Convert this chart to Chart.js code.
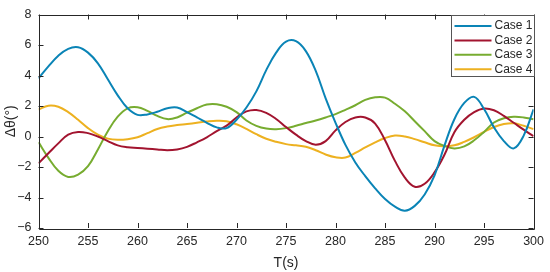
<!DOCTYPE html>
<html>
<head>
<meta charset="utf-8">
<script src="https://cdn.jsdelivr.net/npm/chart.js@4.4.1/dist/chart.umd.min.js"></script>
<style>
  html, body { margin: 0; padding: 0; background: #fff; }
  #wrap { width: 550px; height: 272px; }
</style>
</head>
<body>
<div id="wrap"><canvas id="myChart"></canvas></div>
<script>
// Time (s)
const times = [250, 251, 252, 253, 254, 255, 256, 257, 258, 259,
               260, 261, 262, 263, 264, 265, 266, 267, 268, 269,
               270, 271, 272, 273, 274, 275, 276, 277, 278, 279,
               280, 281, 282, 283, 284, 285, 286, 287, 288, 289,
               290, 291, 292, 293, 294, 295, 296, 297, 298, 299, 300];

// Δθ per case
const case1 = [3.81, 4.6, 5.3, 5.75, 5.85, 5.5, 4.8, 3.75, 2.7, 1.85,
               1.42, 1.45, 1.62, 1.85, 1.9, 1.6, 1.25, 0.9, 0.6, 0.55,
               1.1, 1.9, 2.96, 4.35, 5.5, 6.22, 6.25, 5.6, 4.3, 2.5,
               0.9, -0.55, -1.7, -2.6, -3.4, -4.1, -4.6, -4.87, -4.55, -3.8,
               -2.55, -0.6, 1.13, 2.2, 2.6, 1.8, 0.6, -0.3, -0.78, 0.06, 1.78];
const case2 = [-1.76, -1.1, -0.45, 0.12, 0.3, 0.22, 0.0, -0.3, -0.58, -0.7,
               -0.75, -0.8, -0.85, -0.9, -0.85, -0.68, -0.38, -0.05, 0.35, 0.71,
               1.25, 1.65, 1.74, 1.55, 1.15, 0.62, 0.12, -0.3, -0.54, -0.3,
               0.4, 0.95, 1.25, 1.25, 0.85, -0.25, -1.6, -2.7, -3.3, -3.1,
               -2.35, -1.2, 0.28, 1.1, 1.6, 1.84, 1.72, 1.35, 0.9, 0.45, 0.02];
const case3 = [-0.37, -1.4, -2.25, -2.65, -2.5, -1.95, -0.85, 0.35, 1.3, 1.85,
               1.92, 1.68, 1.35, 1.14, 1.25, 1.56, 1.85, 2.1, 2.12, 1.95,
               1.6, 1.05, 0.7, 0.52, 0.48, 0.55, 0.7, 0.88, 1.05, 1.25,
               1.47, 1.75, 2.05, 2.4, 2.57, 2.55, 2.15, 1.65, 1.0, 0.35,
               -0.3, -0.62, -0.78, -0.65, -0.25, 0.3, 0.92, 1.2, 1.29, 1.25, 1.13];
const case4 = [1.77, 2.02, 1.95, 1.6, 1.1, 0.55, 0.12, -0.14, -0.22, -0.18,
               -0.05, 0.22, 0.49, 0.65, 0.75, 0.82, 0.9, 0.98, 1.03, 1.0,
               0.8, 0.5, 0.15, -0.15, -0.35, -0.5, -0.58, -0.67, -0.9, -1.18,
               -1.36, -1.38, -1.08, -0.72, -0.38, -0.1, 0.06, 0.0, -0.17, -0.38,
               -0.58, -0.64, -0.58, -0.35, -0.05, 0.3, 0.62, 0.82, 0.87, 0.7, 0.49];

const caseNames = ["Case 1", "Case 2", "Case 3", "Case 4"];
const caseColors = ["#0A84B6", "#A2142F", "#77AC30", "#EDB120"];

const xTicks = [250, 300, 5];
const yTicks = [-6, 8, 2];

const textColor = "#262626";
const axisColor = "#262626";
const fontFamily = "'Liberation Sans', Arial, sans-serif";

function toPoints(values) {
    return times.map((t, i) => ({ x: t, y: values[i] }));
}

const series = [case1, case2, case3, case4];

// Box, inner ticks and legend, like MATLAB
const boxPlugin = {
    id: "boxPlugin",
    afterDraw(chart) {
        const ctx = chart.ctx;
        const a = chart.chartArea;
        const xs = chart.scales.x;
        const ys = chart.scales.y;
        ctx.save();
        ctx.strokeStyle = axisColor;
        ctx.lineWidth = 1;
        ctx.beginPath();
        ctx.rect(Math.round(a.left) + 0.5, Math.round(a.top) + 0.5,
                 Math.round(a.right - a.left), Math.round(a.bottom - a.top));
        ctx.stroke();

        const len = 5;
        ctx.beginPath();
        xs.ticks.forEach(tk => {
            const px = Math.round(xs.getPixelForValue(tk.value)) + 0.5;
            ctx.moveTo(px, a.bottom); ctx.lineTo(px, a.bottom - len);
            ctx.moveTo(px, a.top); ctx.lineTo(px, a.top + len);
        });
        ys.ticks.forEach(tk => {
            const py = Math.round(ys.getPixelForValue(tk.value)) + 0.5;
            ctx.moveTo(a.left, py); ctx.lineTo(a.left + len, py);
            ctx.moveTo(a.right, py); ctx.lineTo(a.right - len, py);
        });
        ctx.stroke();

        // legend
        const lw = 83, rowH = 14.4, lh = 61;
        const lx = Math.round(a.right - lw) + 0.5;
        const ly = Math.round(a.top) + 0.5;
        ctx.fillStyle = "#fff";
        ctx.fillRect(lx, ly, lw, lh);
        ctx.strokeStyle = "#555";
        ctx.strokeRect(lx, ly, lw, lh);
        ctx.font = "12px " + fontFamily;
        ctx.textBaseline = "middle";
        chart.data.datasets.forEach((ds, i) => {
            const cy = ly + 10.5 + i * rowH;
            ctx.strokeStyle = ds.borderColor;
            ctx.lineWidth = 2;
            ctx.beginPath();
            ctx.moveTo(lx + 3, cy); ctx.lineTo(lx + 40, cy);
            ctx.stroke();
            ctx.fillStyle = textColor;
            ctx.fillText(ds.label, lx + 43, cy);
        });
        ctx.restore();
    }
};

const ctx = document.getElementById("myChart").getContext("2d");
new Chart(ctx, {
    type: "line",
    data: {
        datasets: series.map((s, i) => ({
            label: caseNames[i],
            data: toPoints(s),
            borderColor: caseColors[i],
            backgroundColor: caseColors[i],
            borderWidth: 2,
            pointRadius: 0,
            tension: 0.4,
            fill: false
        }))
    },
    options: {
        responsive: true,
        maintainAspectRatio: false,
        animation: false,
        events: [],
        layout: { padding: { top: 9, right: 14, left: 0, bottom: 0 } },
        plugins: {
            legend: { display: false },
            tooltip: { enabled: false }
        },
        scales: {
            x: {
                type: "linear",
                min: xTicks[0],
                max: xTicks[1],
                afterFit: s => { s.height = 44; },
                ticks: {
                    stepSize: xTicks[2],
                    color: textColor,
                    padding: 6,
                    maxRotation: 0,
                    font: { family: fontFamily, size: 12.5 }
                },
                grid: { display: false, drawTicks: false },
                border: { display: false },
                title: {
                    display: true,
                    text: "T(s)",
                    color: textColor,
                    padding: { top: 5, bottom: 0 },
                    font: { family: fontFamily, size: 14 }
                }
            },
            y: {
                min: yTicks[0],
                max: yTicks[1],
                afterFit: s => { s.width = 38.5; },
                ticks: {
                    stepSize: yTicks[2],
                    color: textColor,
                    padding: 7,
                    font: { family: fontFamily, size: 12.5 },
                    callback: v => (v < 0 ? "\u2212" + Math.abs(v) : String(v))
                },
                grid: { display: false, drawTicks: false },
                border: { display: false },
                title: {
                    display: true,
                    text: "Δθ(°)",
                    color: textColor,
                    padding: { top: 3, bottom: 2 },
                    font: { family: fontFamily, size: 14 }
                }
            }
        }
    },
    plugins: [boxPlugin]
});
</script>
</body>
</html>
